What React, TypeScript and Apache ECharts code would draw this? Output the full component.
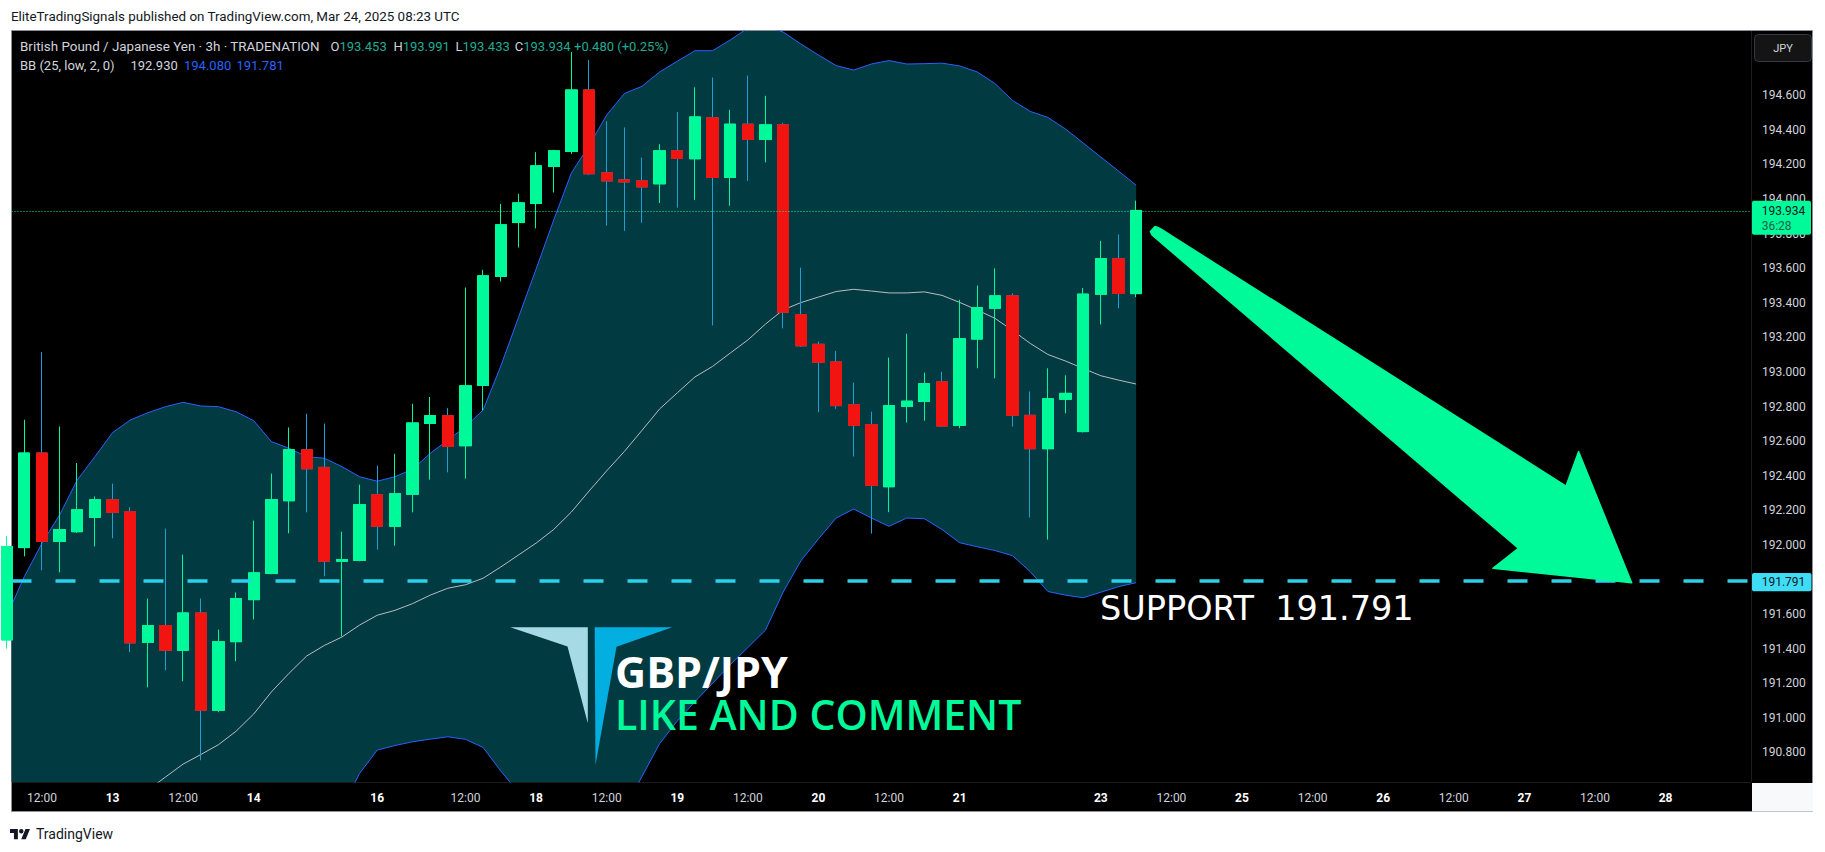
import React, { useEffect, useRef } from "react";
import * as echarts from "echarts";

// ---------- data (3h candles, GBP/JPY) ----------
// bar slot index on the time scale; -1 is the bar cut off at the left edge
const candleSlots = Array.from({ length: 65 }, (_, i) => i - 1);

const opens = [191.45, 191.984, 192.531, 192.02, 192.076, 192.159, 192.261, 192.192, 191.436, 191.533, 191.39, 191.606, 191.043, 191.44, 191.683, 191.834, 192.255, 192.55, 192.448, 191.905, 191.91, 192.29, 192.107, 192.292, 192.702, 192.747, 192.573, 192.922, 193.552, 193.864, 193.974, 194.188, 194.275, 194.631, 194.152, 194.111, 194.105, 194.088, 194.279, 194.233, 194.47, 194.125, 194.433, 194.345, 194.429, 193.331, 193.16, 193.058, 192.81, 192.695, 192.336, 192.8, 192.829, 192.943, 192.691, 193.19, 193.368, 193.44, 192.749, 192.556, 192.842, 192.655, 193.449, 193.655, 193.453];
const closes = [191.99, 192.531, 192.02, 192.088, 192.203, 192.261, 192.188, 191.433, 191.533, 191.39, 191.606, 191.043, 191.44, 191.689, 191.838, 192.261, 192.55, 192.44, 191.905, 191.915, 192.232, 192.107, 192.296, 192.705, 192.747, 192.569, 192.92, 193.556, 193.851, 193.978, 194.192, 194.279, 194.631, 194.146, 194.105, 194.099, 194.07, 194.279, 194.235, 194.475, 194.125, 194.433, 194.345, 194.429, 193.345, 193.151, 193.056, 192.805, 192.691, 192.344, 192.805, 192.831, 192.932, 192.687, 193.192, 193.372, 193.44, 192.749, 192.556, 192.845, 192.876, 193.45, 193.655, 193.454, 193.934];
const lows = [191.4, 191.933, 191.853, 191.841, 192.069, 191.991, 192.038, 191.379, 191.176, 191.275, 191.211, 190.754, 191.032, 191.327, 191.568, 191.83, 192.067, 192.188, 191.818, 191.471, 191.905, 191.972, 191.995, 192.188, 192.377, 192.419, 192.383, 192.777, 193.523, 193.72, 193.83, 194.038, 194.261, 194.14, 193.847, 193.816, 193.863, 193.977, 193.95, 193.995, 193.269, 193.961, 194.105, 194.212, 193.252, 193.145, 192.767, 192.787, 192.511, 192.065, 192.189, 192.707, 192.718, 192.685, 192.674, 193.021, 192.963, 192.684, 192.158, 192.03, 192.761, 192.65, 193.275, 193.368, 193.433];
const highs = [192.05, 192.724, 193.115, 192.685, 192.473, 192.28, 192.354, 192.217, 191.689, 192.094, 191.943, 191.689, 191.51, 191.725, 192.14, 192.412, 192.679, 192.758, 192.701, 192.076, 192.348, 192.458, 192.527, 192.816, 192.855, 192.791, 193.488, 193.591, 193.972, 194.03, 194.271, 194.285, 194.85, 194.805, 194.45, 194.414, 194.239, 194.317, 194.503, 194.646, 194.703, 194.516, 194.714, 194.597, 194.441, 193.603, 193.176, 193.122, 192.938, 192.77, 193.083, 193.221, 192.996, 193.001, 193.417, 193.5, 193.599, 193.454, 192.887, 193.021, 192.98, 193.486, 193.758, 193.795, 193.991];

// Bollinger Bands (25, low, 2, 0)
const bbUpper = [191.588, 191.816, 192.009, 192.173, 192.375, 192.51, 192.649, 192.722, 192.764, 192.799, 192.824, 192.803, 192.799, 192.77, 192.718, 192.597, 192.558, 192.51, 192.501, 192.452, 192.394, 192.368, 192.394, 192.437, 192.529, 192.606, 192.683, 192.78, 193.034, 193.315, 193.595, 193.879, 194.151, 194.309, 194.486, 194.61, 194.652, 194.735, 194.797, 194.858, 194.858, 194.92, 194.989, 195.001, 194.966, 194.897, 194.833, 194.772, 194.746, 194.781, 194.801, 194.781, 194.783, 194.786, 194.77, 194.735, 194.668, 194.57, 194.507, 194.472, 194.405, 194.324, 194.243, 194.162, 194.08];
const bbMiddle = [189.975, 190.062, 190.148, 190.224, 190.293, 190.368, 190.438, 190.507, 190.582, 190.657, 190.732, 190.787, 190.844, 190.922, 191.022, 191.149, 191.257, 191.357, 191.418, 191.467, 191.536, 191.593, 191.621, 191.66, 191.709, 191.749, 191.769, 191.807, 191.872, 191.941, 192.01, 192.089, 192.19, 192.311, 192.428, 192.54, 192.662, 192.786, 192.879, 192.971, 193.032, 193.109, 193.185, 193.277, 193.359, 193.401, 193.433, 193.465, 193.478, 193.468, 193.457, 193.457, 193.463, 193.443, 193.402, 193.358, 193.31, 193.24, 193.165, 193.101, 193.063, 193.02, 192.978, 192.953, 192.93];
const bbLower = [188.362, 188.308, 188.287, 188.275, 188.211, 188.226, 188.227, 188.292, 188.4, 188.515, 188.64, 188.771, 188.889, 189.074, 189.326, 189.701, 189.956, 190.204, 190.335, 190.482, 190.678, 190.813, 190.839, 190.861, 190.876, 190.89, 190.875, 190.828, 190.692, 190.567, 190.425, 190.299, 190.229, 190.313, 190.37, 190.47, 190.66, 190.85, 190.981, 191.093, 191.199, 191.306, 191.406, 191.507, 191.727, 191.907, 192.034, 192.155, 192.207, 192.155, 192.107, 192.155, 192.151, 192.089, 192.012, 191.989, 191.967, 191.937, 191.845, 191.73, 191.709, 191.694, 191.726, 191.758, 191.781];

const supportLevel = 191.791;

// time-axis labels
const xLabelSlots = [1, 5, 9, 13, 20, 25, 29, 33, 37, 41, 45, 49, 53, 61, 65, 69, 73, 77, 81, 85, 89, 93];
const xLabelTexts = ["12:00", "13", "12:00", "14", "16", "12:00", "18", "12:00", "19", "12:00", "20", "12:00", "21", "23", "12:00", "25", "12:00", "26", "12:00", "27", "12:00", "28"];

// price-axis labels (191.800 sits fully under the support tag in the reference)
const yTicks = [190.8, 191.0, 191.2, 191.4, 191.6, 192.0, 192.2, 192.4, 192.6, 192.8, 193.0, 193.2, 193.4, 193.6, 193.8, 194.0, 194.2, 194.4, 194.6];

// arrow drawing anchored in (slot, price)
const arrowSlots = [63.81, 64.07, 64.35, 87.36, 88.07, 91.08, 83.22, 84.66, 63.9];
const arrowPrices = [193.812, 193.841, 193.83, 192.34, 192.539, 191.781, 191.864, 191.98, 193.792];

// ---------- styling ----------
const GREEN = "#00fa9a";
const RED = "#f21410";
const WICK_DOWN = "#1f9fd6";
const BAND = "#023a42";
const BB_BLUE = "#2962ff";
const BB_MID = "#b8bcc4";
const CYAN_LINE = "#29d2ea";
const CYAN_BOX = "#3fdcf5";
const TXT = "#d1d4dc";
const TEAL = "#22ab94";

const X_MIN = -0.7253;
const X_MAX = 97.841;
const Y_MIN = 190.6283;
const Y_MAX = 194.9719;

const TV_PATH =
  "M14 22H7V11H0V4h14v18zM28 22h-8l7.5-18h8L28 22zM24 8a4 4 0 1 1-8 0a4 4 0 1 1 8 0z";
echarts.graphic.registerShape("tvlogo", echarts.graphic.extendPath(TV_PATH, {}) as any);

function txt(text: string, x: number, y: number, fill: string, size: number, extra: any = {}) {
  return {
    type: "text",
    z: 20,
    x,
    y,
    style: { text, fill, fontSize: size, fontFamily: "Roboto", verticalAlign: "middle", align: "left", ...extra },
  };
}

function ohlcLegend(label: string, value: string, x: number, y: number) {
  return {
    type: "text",
    z: 20,
    x,
    y,
    style: {
      text: `{l|${label}}{v|${value}}`,
      verticalAlign: "middle",
      align: "left",
      rich: {
        l: { fill: TXT, fontSize: 13, fontFamily: "Roboto" },
        v: { fill: TEAL, fontSize: 13, fontFamily: "Roboto" },
      },
    },
  };
}

export default function App() {
  const ref = useRef<HTMLDivElement>(null);

  useEffect(() => {
    const el = ref.current!;
    const chart = echarts.init(el, null, { renderer: "svg", width: 1825, height: 852 });

    const candleFull = candleSlots.map((s, i) => [s, opens[i], closes[i], lows[i], highs[i]]);
    const candleBody = candleSlots.map((s, i) => [
      s,
      opens[i],
      closes[i],
      Math.min(opens[i], closes[i]),
      Math.max(opens[i], closes[i]),
    ]);

    const option: any = {
      animation: false,
      grid: { left: 11.5, top: 31, width: 1739.5, height: 751 },
      xAxis: {
        type: "value",
        min: X_MIN,
        max: X_MAX,
        z: 10,
        axisLine: { show: false },
        axisTick: { show: false },
        splitLine: { show: false },
        axisLabel: {
          customValues: xLabelSlots,
          margin: 10,
          formatter: (v: number) => {
            const t = xLabelTexts[xLabelSlots.indexOf(v)] ?? "";
            return t.indexOf(":") >= 0 ? `{t|${t}}` : `{d|${t}}`;
          },
          rich: {
            t: { color: TXT, fontSize: 12, fontFamily: "Roboto" },
            d: { color: "#ffffff", fontSize: 12, fontWeight: "bold", fontFamily: "Roboto" },
          },
        },
      },
      yAxis: {
        type: "value",
        position: "right",
        min: Y_MIN,
        max: Y_MAX,
        z: 10,
        axisLine: { show: false },
        axisTick: { show: false },
        splitLine: { show: false },
        axisLabel: {
          customValues: yTicks,
          formatter: (v: number) => v.toFixed(3),
          color: TXT,
          fontSize: 12,
          fontFamily: "Roboto",
          margin: 11,
        },
      },
      series: [
        {
          type: "custom",
          name: "BB fill",
          coordinateSystem: "cartesian2d",
          clip: true,
          silent: true,
          z: 1,
          data: [[30, 193]],
          renderItem: (params: any, api: any) => {
            const pts: number[][] = [];
            for (let i = 0; i < candleSlots.length; i++) pts.push(api.coord([candleSlots[i], bbUpper[i]]));
            for (let i = candleSlots.length - 1; i >= 0; i--) pts.push(api.coord([candleSlots[i], bbLower[i]]));
            const cs = params.coordSys;
            return {
              type: "polygon",
              shape: { points: pts },
              style: { fill: BAND },
              clipPath: { type: "rect", shape: { x: cs.x, y: cs.y, width: cs.width, height: cs.height } },
            };
          },
        },
        {
          type: "line",
          name: "BB upper",
          data: candleSlots.map((s, i) => [s, bbUpper[i]]),
          symbol: "none",
          z: 2,
          lineStyle: { color: BB_BLUE, width: 1 },
        },
        {
          type: "line",
          name: "BB lower",
          data: candleSlots.map((s, i) => [s, bbLower[i]]),
          symbol: "none",
          z: 2,
          lineStyle: { color: BB_BLUE, width: 1 },
        },
        {
          type: "line",
          name: "BB basis",
          data: candleSlots.map((s, i) => [s, bbMiddle[i]]),
          symbol: "none",
          z: 2,
          lineStyle: { color: BB_MID, width: 1 },
          markLine: {
            silent: true,
            symbol: ["none", "none"],
            label: { show: false },
            z: 5,
            data: [
              { yAxis: supportLevel, lineStyle: { color: CYAN_LINE, width: 3.5, type: [20, 24] } },
              { yAxis: closes[closes.length - 1], lineStyle: { color: GREEN, width: 1, type: [1, 2] } },
            ],
          },
        },
        {
          type: "candlestick",
          name: "wicks",
          data: candleFull,
          barWidth: 11.8,
          z: 3,
          itemStyle: { color: GREEN, color0: RED, borderColor: GREEN, borderColor0: WICK_DOWN, borderWidth: 1 },
        },
        {
          type: "candlestick",
          name: "bodies",
          data: candleBody,
          barWidth: 11.8,
          z: 4,
          itemStyle: { color: GREEN, color0: RED, borderColor: GREEN, borderColor0: RED, borderWidth: 1 },
        },
        {
          type: "custom",
          name: "arrow",
          coordinateSystem: "cartesian2d",
          silent: true,
          z: 6,
          data: [[70, 193]],
          renderItem: (_params: any, api: any) => {
            const pts = arrowSlots.map((s, i) => api.coord([s, arrowPrices[i]]));
            return {
              type: "polygon",
              shape: { points: pts },
              style: { fill: GREEN, stroke: GREEN, lineWidth: 1.5, lineJoin: "round" },
            };
          },
        },
      ],
    };

    chart.setOption(option);

    const yLast = chart.convertToPixel({ yAxisIndex: 0 }, closes[closes.length - 1]) as number;
    const ySup = chart.convertToPixel({ yAxisIndex: 0 }, supportLevel) as number;

    const graphic: any[] = [
      // chart frame / panes
      { type: "rect", z: -10, shape: { x: 11.5, y: 30.5, width: 1801, height: 781 }, style: { fill: "#000", stroke: "#8c8f97", lineWidth: 1 } },
      { type: "line", z: -9, shape: { x1: 1751.5, y1: 31, x2: 1751.5, y2: 782 }, style: { stroke: "#1c1c1c", lineWidth: 1 } },
      { type: "line", z: -9, shape: { x1: 12, y1: 782.5, x2: 1751, y2: 782.5 }, style: { stroke: "#1c1c1c", lineWidth: 1 } },
      { type: "rect", z: -8, shape: { x: 1752, y: 783, width: 61, height: 28.5 }, style: { fill: "#f8f9fb" } },

      // top caption
      txt("EliteTradingSignals published on TradingView.com, Mar 24, 2025 08:23 UTC", 11, 16, "#131722", 13.4),

      // currency button
      { type: "rect", z: 20, shape: { x: 1754.5, y: 34.5, width: 57, height: 27, r: 4 }, style: { fill: "#141414", stroke: "#34373e", lineWidth: 1 } },
      txt("JPY", 1783, 48.5, TXT, 11, { align: "center" }),

      // legend row 1
      txt("British Pound / Japanese Yen · 3h · TRADENATION", 20, 46.7, TXT, 13.4),
      ohlcLegend("O", "193.453", 330.5, 46.7),
      ohlcLegend("H", "193.991", 393.4, 46.7),
      ohlcLegend("L", "193.433", 455.5, 46.7),
      ohlcLegend("C", "193.934", 514.8, 46.7),
      txt("+0.480 (+0.25%)", 574, 46.7, TEAL, 13),

      // legend row 2
      txt("BB (25, low, 2, 0)", 20, 65.7, TXT, 13),
      txt("192.930", 130.5, 65.7, TXT, 13),
      txt("194.080", 184, 65.7, BB_BLUE, 13),
      txt("191.781", 236.5, 65.7, BB_BLUE, 13),

      // last price tag
      { type: "rect", z: 20, shape: { x: 1752, y: yLast - 9.6, width: 59, height: 34, r: 2 }, style: { fill: GREEN } },
      txt("193.934", 1761.7, yLast + 1, "#131722", 12, { lineHeight: 12 }),
      txt("36:28", 1761.7, yLast + 15.4, "#1f5f45", 12, { lineHeight: 12 }),

      // support tag
      { type: "rect", z: 20, shape: { x: 1752, y: ySup - 8, width: 59.5, height: 18.3, r: 2 }, style: { fill: CYAN_BOX } },
      txt("191.791", 1761.7, ySup + 1.3, "#131722", 12, { lineHeight: 12 }),

      // support caption
      txt("SUPPORT  191.791", 1100, ySup + 28, "#ffffff", 33.5, { fontFamily: "DejaVu Sans", lineHeight: 34 }),

      // logo + caption
      { type: "polygon", z: 20, shape: { points: [[510.3, 627.3], [587.8, 627.3], [587.8, 723.3], [567.5, 646.5]] }, style: { fill: "#a6dbe5" } },
      { type: "polygon", z: 20, shape: { points: [[594.7, 627.3], [672.2, 627.3], [616.5, 646.8], [595.5, 765]] }, style: { fill: "#03aee0" } },
      txt("GBP/JPY", 615, 671.3, "#ffffff", 43, { fontFamily: "Open Sans", fontWeight: 700, lineHeight: 40 }),
      txt("LIKE AND COMMENT", 615, 714.3, GREEN, 41, { fontFamily: "Open Sans", fontWeight: 600, lineHeight: 40 }),

      // footer
      { type: "tvlogo", z: 20, x: 10, y: 826.8, scaleX: 0.563, scaleY: 0.563, style: { fill: "#131722" } },
      txt("TradingView", 36, 834, "#131722", 14),
    ];

    chart.setOption({ graphic });

    return () => chart.dispose();
  }, []);

  return (
    <div
      ref={ref}
      style={{ position: "absolute", left: 0, top: 0, width: 1825, height: 852, background: "#ffffff" }}
    />
  );
}
